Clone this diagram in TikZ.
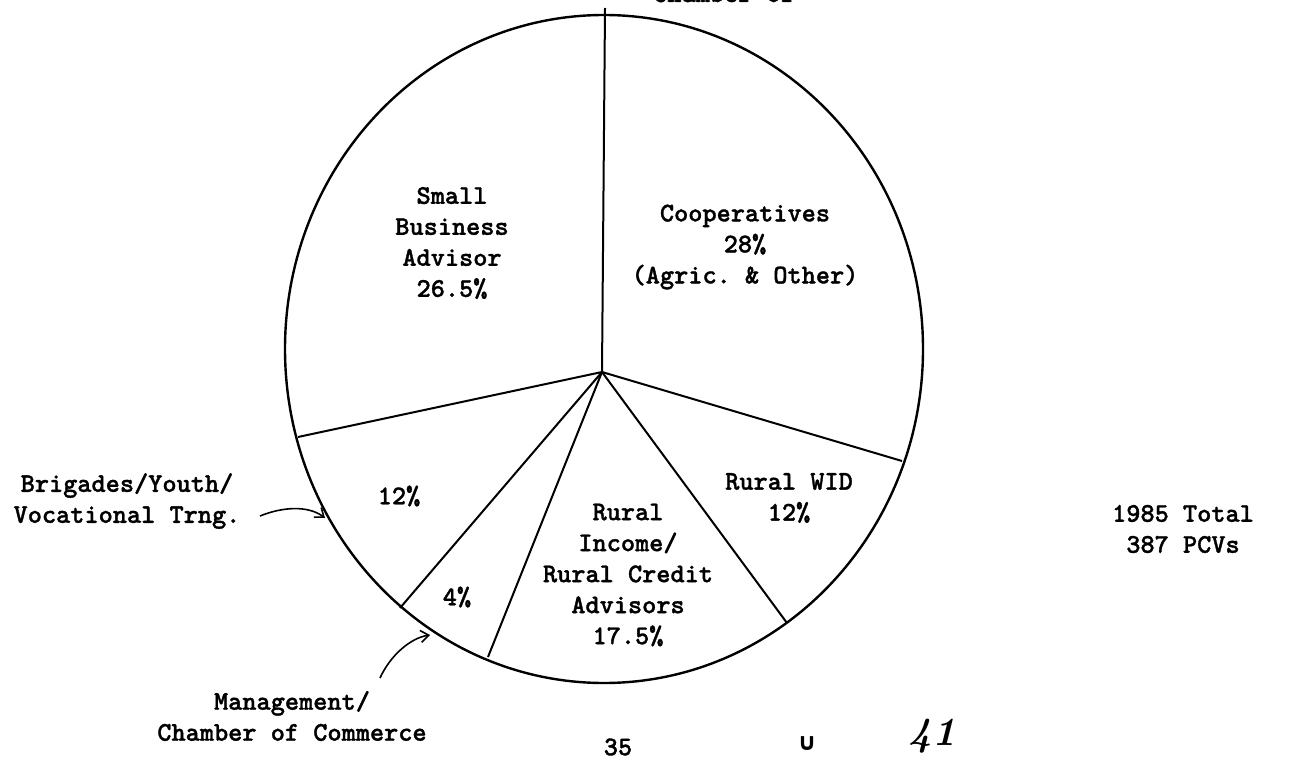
\documentclass[tikz,border=0pt]{standalone}
\usepackage{fontspec}
\setmonofont{lmmonolt10-bold.otf}[FakeBold=1.2]
\newfontfamily\symfont{DejaVu Sans}
\usetikzlibrary{arrows.meta}
\begin{document}
\begin{tikzpicture}[x=1pt,y=-1pt,
    txt/.style={font=\fontsize{27}{31}\selectfont\ttfamily, align=center, inner sep=0pt},
    spoke/.style={line width=2pt},
    pointer/.style={line width=1.6pt, -{Straight Barb[length=8pt,width=12pt]}}]
    \useasboundingbox (0,0) rectangle (1295,760);
    % pie outline
    \draw [line width=2.4pt] (604,349) ellipse [x radius=319, y radius=334];
    \coordinate (ctr) at (602,372);
    \coordinate (top) at (605,8);
    \coordinate (cw) at (902,461);
    \coordinate (wr) at (787,623);
    \coordinate (rm) at (488,657);
    \coordinate (mb) at (400,608);
    \coordinate (bs) at (298,437);
    \foreach \p in {top,cw,wr,rm,mb,bs}
        \draw [spoke] (ctr) -- (\p);
    % slice labels
    \node [txt] (sba) at (452,243) {Small\\Business\\Advisor\\26.5\%};
    \node [txt] (coop) at (745,247) {Cooperatives\\28\%\\(Agric. \& Other)};
    \node [txt] (wid) at (789,498) {Rural WID\\12\%};
    \node [txt] (inc) at (628,575) {Rural\\Income/\\Rural Credit\\Advisors\\17.5\%};
    \node [txt] (brp) at (399,496) {12\%};
    \node [txt] (mgp) at (457,597) {4\%};
    % outside labels
    \node [txt] (brig) at (127,501) {Brigades/Youth/\\Vocational Trng.};
    \node [txt] (mgmt) at (292,716) {Management/\\Chamber of Commerce};
    \node [txt] (total) at (1183,529) {1985 Total\\387 PCVs};
    \node [txt, anchor=base west] (head) at (653,2) {Chamber of};
    \node [txt] (pg) at (618,747) {35};
    \node [font=\fontsize{24}{24}\selectfont\symfont\bfseries, inner sep=0pt] (mark) at (807,744) {∪};
    \node [font=\fontsize{40}{40}\selectfont\bfseries\itshape, inner sep=0pt] (num) at (932,736) {41};
    % pointers
    \coordinate (brigtail) at (260,516);
    \coordinate (brigtip) at (325,518);
    \draw [pointer] (brigtail) .. controls (282,507) and (308,505) .. (brigtip);
    \coordinate (mgmttail) at (380,678);
    \coordinate (mgmttip) at (430,635);
    \draw [pointer] (mgmttail) .. controls (390,656) and (410,638) .. (mgmttip);
\end{tikzpicture}
\end{document}
